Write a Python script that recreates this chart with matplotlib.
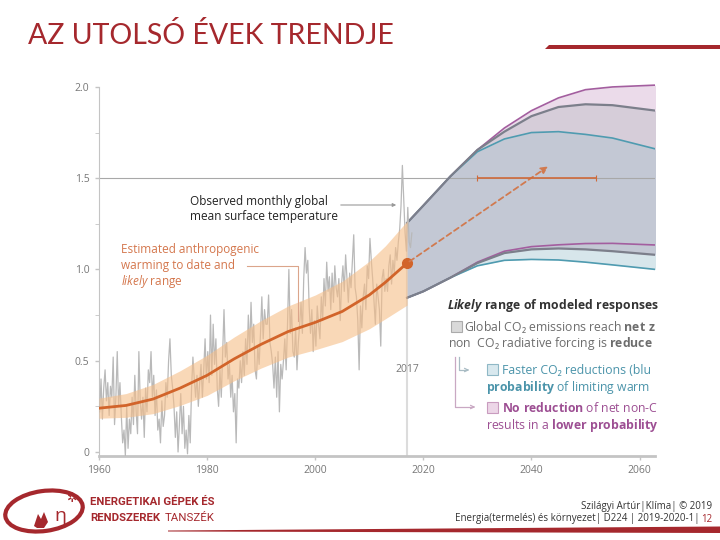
import matplotlib
matplotlib.use('Agg')
import matplotlib.pyplot as plt
import matplotlib.patches as mpatches
import numpy as np

plt.rcParams['font.family'] = ['Open Sans', 'DejaVu Sans']
plt.rcParams['mathtext.fontset'] = 'custom'
plt.rcParams['mathtext.rm'] = 'Open Sans'
plt.rcParams['mathtext.it'] = 'Open Sans:italic'
plt.rcParams['mathtext.bf'] = 'Open Sans:bold'
plt.rcParams['mathtext.bfit'] = 'Open Sans:italic:bold'

# observed global mean surface temperature, 4 readings per year, 1960-2017
obs_by_year = [
    [0.22, 0.40, 0.18, 0.35], [0.45, 0.28, 0.38, 0.20], [0.36, 0.30, 0.52, 0.15],
    [0.30, 0.55, 0.25, 0.38], [0.20, 0.05, 0.12, -0.02], [0.25, 0.02, 0.18, 0.10],
    [0.30, 0.15, 0.42, 0.22], [0.10, 0.55, 0.28, 0.18], [0.30, 0.08, 0.35, 0.22],
    [0.45, 0.38, 0.55, 0.30], [0.42, 0.20, 0.34, 0.12], [0.18, 0.05, 0.28, 0.14],
    [0.20, 0.38, 0.30, 0.50], [0.62, 0.42, 0.35, 0.25], [0.08, 0.22, 0.00, 0.15],
    [0.32, 0.10, 0.25, 0.02], [0.12, -0.01, 0.20, 0.05], [0.35, 0.52, 0.40, 0.30],
    [0.42, 0.25, 0.38, 0.48], [0.30, 0.45, 0.62, 0.40], [0.55, 0.38, 0.75, 0.42],
    [0.70, 0.48, 0.62, 0.35], [0.25, 0.45, 0.30, 0.55], [0.78, 0.52, 0.60, 0.40],
    [0.48, 0.30, 0.42, 0.22], [0.32, 0.05, 0.40, 0.35], [0.50, 0.38, 0.55, 0.42],
    [0.62, 0.48, 0.75, 0.55], [0.82, 0.60, 0.70, 0.45], [0.40, 0.58, 0.48, 0.65],
    [0.85, 0.62, 0.78, 0.70], [0.70, 0.86, 0.60, 0.55], [0.48, 0.35, 0.52, 0.30],
    [0.55, 0.22, 0.48, 0.40], [0.50, 0.62, 0.45, 0.70], [1.00, 0.65, 0.78, 0.55],
    [0.52, 0.68, 0.45, 0.60], [0.70, 0.82, 0.65, 0.95], [1.12, 0.98, 1.05, 0.80],
    [0.65, 0.78, 0.55, 0.72], [0.58, 0.80, 0.70, 0.62], [0.85, 0.72, 0.95, 0.80],
    [1.04, 0.88, 0.96, 0.78], [0.98, 0.82, 1.02, 0.90], [0.85, 0.95, 0.72, 0.92],
    [1.02, 0.88, 1.08, 0.95], [0.82, 0.98, 0.90, 1.05], [1.19, 0.90, 0.85, 0.72],
    [0.45, 0.80, 0.68, 0.85], [0.92, 0.78, 1.02, 0.95], [1.17, 1.05, 0.95, 0.82],
    [0.70, 0.92, 0.85, 0.78], [0.58, 0.95, 1.00, 0.88], [0.95, 0.88, 1.02, 1.08],
    [0.92, 1.05, 0.98, 1.12], [1.05, 1.15, 1.22, 1.35], [1.57, 1.38, 1.20, 1.10],
    [1.34, 1.15, 1.12, 1.20],
]

# estimated anthropogenic warming and half-width of likely range
anthro_years = [1960, 1965, 1970, 1975, 1980, 1985, 1990, 1995, 2000, 2005, 2010, 2013, 2017]
anthro_mid = [0.24, 0.255, 0.29, 0.35, 0.42, 0.51, 0.59, 0.66, 0.71, 0.77, 0.86, 0.93, 1.035]
anthro_half = [0.055, 0.065, 0.08, 0.095, 0.11, 0.12, 0.13, 0.14, 0.15, 0.165, 0.185, 0.2, 0.23]

# modelled response ranges
scen_years = [2017, 2020, 2025, 2030, 2035, 2040, 2045, 2050, 2055, 2063]
grey_up = [1.255, 1.35, 1.51, 1.655, 1.755, 1.84, 1.89, 1.905, 1.90, 1.87]
grey_lo = [0.845, 0.88, 0.955, 1.035, 1.09, 1.11, 1.115, 1.11, 1.10, 1.08]
purple_up = [1.255, 1.35, 1.51, 1.655, 1.775, 1.87, 1.94, 1.985, 2.0, 2.01]
purple_lo = [0.845, 0.88, 0.955, 1.04, 1.10, 1.125, 1.135, 1.142, 1.143, 1.134]
blue_up = [1.255, 1.35, 1.51, 1.645, 1.715, 1.75, 1.755, 1.74, 1.72, 1.66]
blue_lo = [0.845, 0.88, 0.955, 1.02, 1.05, 1.055, 1.052, 1.04, 1.025, 1.0]

arrow_end = (2043.5, 1.573)
range_15 = (2030, 2052)

RED = '#a5282d'
ORANGE = '#d2642a'

fig = plt.figure(figsize=(7.2, 5.4), dpi=100)

ax = fig.add_axes([99 / 720, 84 / 540, 556 / 720, 376 / 540])
ax.set_xlim(1960.18, 2062.86)
ax.set_ylim(-0.022, 2.038)

# overlay in slide pixels, drawn above the chart
ov = fig.add_axes([0, 0, 1, 1])
ov.set_xlim(0, 720)
ov.set_ylim(540, 0)
ov.axis('off')
ov.set_zorder(5)

# scenario ranges
ax.fill_between(scen_years, purple_lo, purple_up, color='#ebdbea', lw=0, zorder=1)
ax.fill_between(scen_years, grey_lo, grey_up, color='#d6cdd9', lw=0, zorder=1)
ax.fill_between(scen_years, blue_lo, blue_up, color='#d7e6eb', lw=0, zorder=1)
ax.fill_between(scen_years, grey_lo, blue_up, color='#c3c8d4', lw=0, zorder=1)
ax.plot(scen_years, purple_up, color='#a35e9f', lw=1.2, zorder=2)
ax.plot(scen_years, purple_lo, color='#a35e9f', lw=1.2, zorder=2)
ax.plot(scen_years, blue_up, color='#4f9bb0', lw=1.2, zorder=2)
ax.plot(scen_years, blue_lo, color='#4f9bb0', lw=1.2, zorder=2)
ax.plot(scen_years, grey_up, color='#7c7f8b', lw=1.6, zorder=2)
ax.plot(scen_years, grey_lo, color='#7c7f8b', lw=1.6, zorder=2)

ax.axhline(1.5, color='#a8a8a8', lw=0.8, zorder=1.5)
ax.plot([2017, 2017], [-0.022, 1.25], color='#dcdcdc', lw=1.5, zorder=0.5)

# observed
obs = np.array(obs_by_year).ravel()
obs_x = 1960 + (np.arange(len(obs)) + 0.5) / 4
ax.plot(obs_x, obs, color='#b9b9b9', lw=0.9, zorder=3)

# anthropogenic warming
mid = np.array(anthro_mid)
half = np.array(anthro_half)
ax.fill_between(anthro_years, mid - half, mid + half, color='#f6be88', alpha=0.6, lw=0, zorder=4)
ax.plot(anthro_years, anthro_mid, color=ORANGE, lw=2, zorder=5)
ax.plot(anthro_years[-1], anthro_mid[-1], 'o', color=ORANGE, ms=7, zorder=6)

ax.annotate('', xy=arrow_end, xytext=(anthro_years[-1], anthro_mid[-1]),
            arrowprops=dict(arrowstyle='-|>', color='#d17a4f', lw=1.3,
                            linestyle=(0, (3, 2)), mutation_scale=10), zorder=6)
ax.errorbar((range_15[0] + range_15[1]) / 2, 1.5, xerr=(range_15[1] - range_15[0]) / 2,
            color='#cf6a3a', lw=1.2, capsize=2.5, capthick=0.8, zorder=6)

ax.text(2017, 0.45, '2017', ha='center', va='center', fontsize=7.5, color='#777777')

# axes styling
for s in ['top', 'right']:
    ax.spines[s].set_visible(False)
ax.spines['left'].set_color('#c4c4c4')
ax.spines['left'].set_bounds(-0.022, 2.0)
ax.spines['bottom'].set_color('#c4c4c4')
ax.spines['bottom'].set_linewidth(2)
ax.set_yticks([0, 0.5, 1.0, 1.5, 2.0])
ax.set_yticklabels(['0', '0.5', '1.0', '1.5', '2.0'])
ax.set_yticks([0.25, 0.75, 1.25, 1.75], minor=True)
ax.set_xticks([1960, 1980, 2000, 2020, 2040, 2060])
ax.tick_params(axis='both', labelsize=7.5, labelcolor='#777777', color='#c4c4c4',
               length=3, width=1)
ax.tick_params(axis='y', which='minor', length=3, color='#c4c4c4')
ax.tick_params(axis='y', pad=4)

# annotations (pixel coordinates on the slide)
def txt(x, y, s, **kw):
    return ov.text(x, y, s, **kw)

txt(190, 209, 'Observed monthly global\nmean surface temperature', fontsize=8.5,
    color='#222222', va='center', linespacing=1.15)
ov.annotate('', xy=(399, 205), xytext=(338, 205),
            arrowprops=dict(arrowstyle='-|>', color='#999999', lw=0.8, mutation_scale=5))

OR_TXT = '#d4774d'
txt(121, 249, 'Estimated anthropogenic', fontsize=8.5, color=OR_TXT, va='center')
txt(121, 266, 'warming to date and', fontsize=8.5, color=OR_TXT, va='center')
txt(121, 282, r'$\mathit{likely}$ range', fontsize=8.5, color=OR_TXT, va='center')
ov.plot([247, 298, 298], [266, 266, 321], color='#dba58b', lw=0.8)

# legend text, cut where the slide image ends
txt(447, 306, r'$\mathbfit{Likely}$$\mathbf{\ range\ of\ modeled\ responses}$',
    fontsize=8.8, color='#333333', va='center')
GREY_TXT = '#6d6d6d'
txt(464, 327, r'Global CO₂ emissions reach $\mathbf{net\ z}$',
    fontsize=8.8, color=GREY_TXT, va='center')
txt(448, 344, r'non  CO₂ radiative forcing is $\mathbf{reduce}$',
    fontsize=8.8, color=GREY_TXT, va='center')
BLUE_TXT = '#4b94aa'
txt(502, 370, 'Faster CO₂ reductions (blu',
    fontsize=8.8, color=BLUE_TXT, va='center')
txt(486, 388, r'$\mathbf{probability}$ of limiting warm',
    fontsize=8.8, color=BLUE_TXT, va='center')
PURP_TXT = '#9d4f93'
txt(502, 408, r'$\mathbf{No\ reduction}$ of net non-C',
    fontsize=8.8, color=PURP_TXT, va='center')
txt(486, 425, r'results in a $\mathbf{lower\ probability}$',
    fontsize=8.8, color=PURP_TXT, va='center')

for (x0, y0, fc, ec) in [(451, 321, '#d9d9d9', '#ababab'),
                         (487, 364, '#d8e8ee', '#8fb8c6'),
                         (487, 402, '#ecd6e7', '#c99cbf')]:
    ov.add_patch(mpatches.Rectangle((x0, y0), 11, 11, facecolor=fc, edgecolor=ec,
                                    lw=0.8, zorder=7))
ov.plot([455, 455, 472], [357, 407, 407], color='#c9a8c3', lw=0.9)
ov.plot([459, 459, 466], [357, 370, 370], color='#a9bcc4', lw=0.9)
ov.annotate('', xy=(478, 407), xytext=(470, 407),
            arrowprops=dict(arrowstyle='->', color='#c9a8c3', lw=0.9, mutation_scale=6))
ov.annotate('', xy=(472, 370), xytext=(464, 370),
            arrowprops=dict(arrowstyle='->', color='#a9bcc4', lw=0.9, mutation_scale=6))

# slide decorations
ov.text(28, 35, 'AZ UTOLSÓ ÉVEK TRENDJE', fontsize=20.5, color=RED, va='center',
        family=['Lato', 'DejaVu Sans'])
ov.add_patch(mpatches.Polygon([(549, 44.5), (720, 44.5), (720, 48.5), (545, 48.5)],
                              closed=True, color=RED, lw=0))
ov.add_patch(mpatches.Polygon([(168, 530.5), (720, 526.5), (720, 533), (168, 531.5)],
                              closed=True, color=RED, lw=0))

# logo
ov.add_patch(mpatches.Ellipse((44, 511), 78, 40, angle=-8, fill=False,
                              edgecolor=RED, lw=3))
ov.add_patch(mpatches.Polygon([(34, 526), (38, 514), (41, 519), (44, 512), (48, 522), (44, 528), (37, 528)],
                              closed=True, color=RED, lw=0))
ov.text(60, 516, 'η', fontsize=14, color=RED, ha='center', va='center')
ov.text(71, 498, '✲', fontsize=9, color=RED, ha='center', va='center',
        family=['DejaVu Sans'])
ov.text(90, 502, 'ENERGETIKAI GÉPEK ÉS', fontsize=8.2, color=RED, va='center',
        fontweight='bold', family=['Roboto', 'DejaVu Sans'])
ov.text(90, 518, 'RENDSZEREK', fontsize=8.2, color=RED, va='center',
        fontweight='bold', family=['Roboto', 'DejaVu Sans'])
ov.text(165, 518, 'TANSZÉK', fontsize=8.2, color=RED, va='center',
        family=['Roboto', 'DejaVu Sans'])

# footer
ov.text(712, 507, 'Szilágyi Artúr|Klíma| © 2019', fontsize=7, color='#333333',
        ha='right', va='center')
ov.text(700, 519, 'Energia(termelés) és környezet| D224 | 2019-2020-1|', fontsize=7,
        color='#333333', ha='right', va='center')
ov.text(712, 519, '12', fontsize=7, color=RED, ha='right', va='center')

fig.savefig('out.png', dpi=100)
